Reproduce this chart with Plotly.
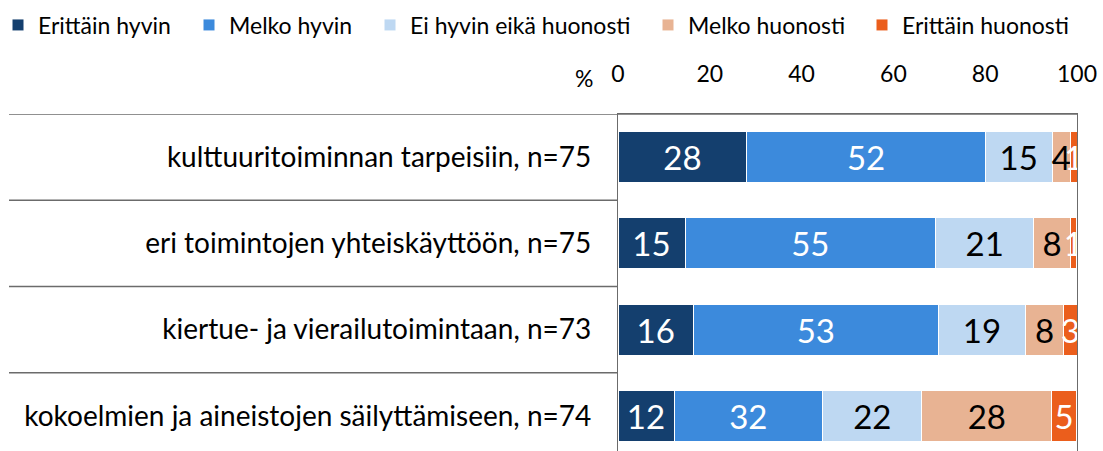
import plotly.graph_objects as go

categories = [
    "kulttuuritoiminnan tarpeisiin, n=75",
    "eri toimintojen yhteiskäyttöön, n=75",
    "kiertue- ja vierailutoimintaan, n=73",
    "kokoelmien ja aineistojen säilyttämiseen, n=74",
]
series_names = ["Erittäin hyvin", "Melko hyvin", "Ei hyvin eikä huonosti", "Melko huonosti", "Erittäin huonosti"]
erittain_hyvin = [28.1, 14.6, 16.4, 12.2]
melko_hyvin = [51.9, 54.6, 53.4, 32.4]
ei_hyvin_eika_huonosti = [14.6, 21.4, 19.0, 21.6]
melko_huonosti = [4.0, 7.9, 8.3, 28.3]
erittain_huonosti = [1.4, 1.4, 2.9, 5.4]
tick_values = [0, 20, 40, 60, 80, 100]
tick_labels = ["0", "20", "40", "60", "80", "100"]

series_values = [erittain_hyvin, melko_hyvin, ei_hyvin_eika_huonosti, melko_huonosti, erittain_huonosti]
colors = ["#143F6E", "#3C8ADC", "#BED8F2", "#E8B393", "#EB5E1C"]
text_colors = ["white", "white", "black", "black", "white"]

W, H = 1103, 451
ML, MR, MT, MB = 618, 26, 114, 0
PW = W - ML - MR
PH = H - MT - MB

def px_x(px):
    return (px - ML) / PW

def px_y(py):
    return (H - MB - py) / PH

FONT = "Lato"
legend_x_px = [-2, 189, 370, 648, 862]

fig = go.Figure()
for i, (name, vals) in enumerate(zip(series_names, series_values)):
    lg = "legend" if i == 0 else f"legend{i+1}"
    fig.add_trace(go.Bar(
        y=categories, x=vals, name=name, orientation="h",
        marker=dict(color=colors[i], line=dict(color="white", width=1)),
        width=0.59,
        text=[f"{v:.0f}" for v in vals],
        textposition="inside", insidetextanchor="middle",
        textangle=0, constraintext="none",
        textfont=dict(family=FONT, size=33, color=text_colors[i]),
        cliponaxis=False,
        legend=lg,
        showlegend=True,
        hoverinfo="x+y+name",
    ))

layout_legends = {}
for i in range(5):
    key = "legend" if i == 0 else f"legend{i+1}"
    layout_legends[key] = dict(
        x=px_x(legend_x_px[i]), xanchor="left",
        y=px_y(25), yanchor="middle",
        orientation="h", bgcolor="rgba(0,0,0,0)",
        font=dict(family=FONT, size=23, color="black"),
        borderwidth=0, itemwidth=30, visible=True,
    )

shapes = []
line_col = "#6B6B6B"
for yv in [0.5, 1.5, 2.5]:
    shapes.append(dict(type="line", xref="paper", yref="y", x0=px_x(9), x1=0, y0=yv, y1=yv,
                       line=dict(color=line_col, width=1.3)))
shapes.append(dict(type="line", xref="paper", yref="y", x0=px_x(9), x1=1, y0=-0.5, y1=-0.5,
                   line=dict(color=line_col, width=1.3)))

fig.update_layout(
    width=W, height=H,
    margin=dict(l=ML, r=MR, t=MT, b=MB, pad=0, autoexpand=False),
    barmode="stack",
    showlegend=True,
    plot_bgcolor="white", paper_bgcolor="white",
    shapes=shapes,
    annotations=[dict(text="%", xref="paper", yref="paper", x=px_x(584), y=px_y(78),
                      showarrow=False, xanchor="center", yanchor="middle",
                      font=dict(family=FONT, size=23, color="black"))],
    xaxis=dict(range=[0, 100], side="top", tickvals=tick_values, ticktext=tick_labels,
               showgrid=False, zeroline=False, showline=True, linecolor=line_col, linewidth=1.3,
               ticks="", ticklabelstandoff=22,
               tickfont=dict(family=FONT, size=23, color="black"), fixedrange=True),
    yaxis=dict(type="category", range=[3.407, -0.5], showgrid=False, zeroline=False,
               showline=True, mirror=True, linecolor=line_col, linewidth=1.3,
               ticks="", ticklabelstandoff=20,
               tickfont=dict(family=FONT, size=28, color="black"), fixedrange=True),
    **layout_legends,
)

fig.write_html("out.html", config={"displayModeBar": False},
               post_script="document.body.style.margin='0';document.body.style.overflow='hidden';")
